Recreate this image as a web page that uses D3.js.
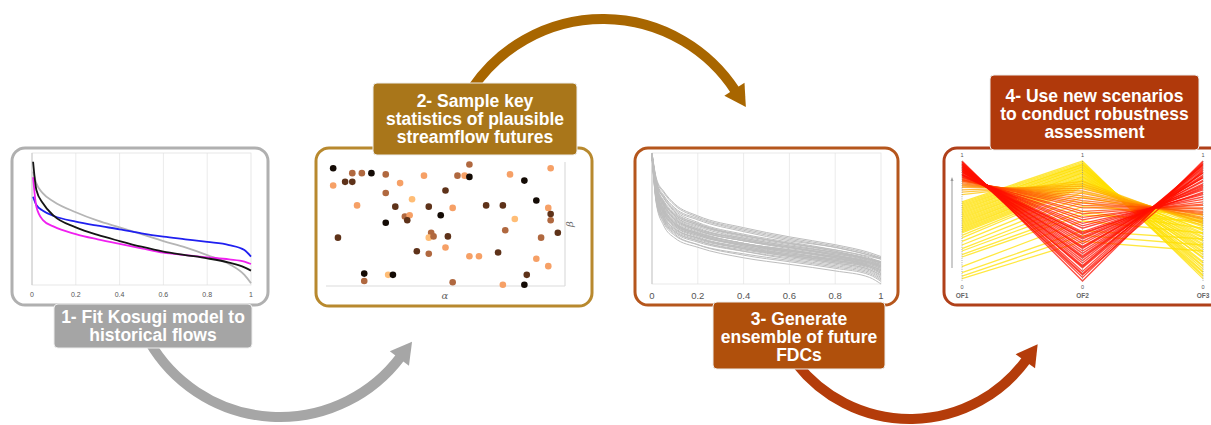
<!DOCTYPE html>
<html><head><meta charset="utf-8">
<script src="https://cdn.jsdelivr.net/npm/d3@7"></script>
<style>body{margin:0;background:#fff}svg{display:block}</style>
</head><body>
<svg id="c" width="1211" height="425"></svg>
<script>
// ---------------- DATA ----------------
// Panel 1: historical FDC fits (exceedance probability vs normalised flow)
const fdcX       = [0.005,0.02,0.05,0.1,0.2,0.3,0.4,0.5,0.6,0.7,0.8,0.9,0.97,1.0];
const histGrey   = [0.859,0.77,0.694,0.631,0.551,0.487,0.437,0.386,0.333,0.285,0.227,0.159,0.076,0.013];
const histBlue   = [0.669,0.606,0.563,0.523,0.48,0.449,0.422,0.391,0.366,0.346,0.326,0.303,0.265,0.215];
const histMagenta= [0.816,0.593,0.492,0.442,0.386,0.346,0.311,0.278,0.245,0.227,0.21,0.194,0.177,0.159];
const histBlack  = [0.934,0.72,0.619,0.523,0.437,0.379,0.333,0.29,0.253,0.227,0.202,0.169,0.134,0.109];
const fdcTicks   = [0,0.2,0.4,0.6,0.8,1];

// Panel 2: sampled statistics (alpha, beta) and shade class
const sampleAlpha = [0.03,0.11,0.15,0.19,0.25,0.03,0.08,0.11,0.31,0.41,0.25,0.36,0.50,0.13,0.29,0.43,0.53,0.48,0.33,0.35,0.34,0.25,0.05,0.44,0.43,0.45,0.51,0.38,0.43,0.50,0.16,0.16,0.26,0.28,0.53,0.60,0.55,0.58,0.60,0.77,0.94,0.83,0.88,0.67,0.74,0.93,0.94,0.94,0.79,0.75,0.97,0.90,0.72,0.60,0.64,0.88,0.93,0.84,0.74,0.83];
const sampleBeta  = [0.95,0.91,0.91,0.91,0.90,0.81,0.84,0.84,0.83,0.89,0.75,0.70,0.77,0.65,0.64,0.64,0.63,0.57,0.56,0.57,0.53,0.51,0.39,0.43,0.39,0.40,0.40,0.28,0.26,0.31,0.10,0.04,0.09,0.09,0.03,0.98,0.89,0.89,0.88,0.90,0.95,0.85,0.69,0.65,0.65,0.63,0.58,0.53,0.54,0.45,0.43,0.39,0.27,0.24,0.24,0.22,0.16,0.09,0.01,0.01];
const sampleShade = [0,2,2,0,2,3,1,1,3,3,2,4,1,3,1,1,3,0,2,3,1,0,1,2,4,2,1,1,2,3,0,2,4,0,2,2,2,3,0,3,3,0,0,1,1,3,1,2,4,2,1,2,1,3,3,3,3,1,3,0];

// Panel 3: ensemble of future FDCs
const ensembleX = [0,0.02,0.05,0.1,0.2,0.4,0.6,0.8,0.95,1];
const ensembleCurves = [
 [1.00,.80,.71,.61,.52,.43,.36,.30,.24,.21],
 [1.00,.79,.70,.60,.51,.42,.35,.29,.23,.20],
 [1.00,.78,.68,.58,.50,.41,.34,.28,.22,.19],
 [1.00,.77,.67,.57,.49,.40,.33,.28,.22,.20],
 [.99,.76,.66,.56,.47,.38,.32,.26,.20,.17],
 [.99,.77,.66,.55,.46,.37,.31,.25,.19,.16],
 [.99,.75,.64,.54,.46,.37,.31,.26,.21,.19],
 [.99,.74,.63,.53,.45,.36,.30,.24,.18,.15],
 [.99,.73,.62,.53,.45,.37,.31,.25,.19,.17],
 [.99,.72,.61,.51,.42,.34,.28,.22,.16,.13],
 [.99,.73,.61,.50,.42,.35,.29,.24,.19,.16],
 [.99,.71,.60,.50,.41,.33,.27,.22,.17,.15],
 [.98,.70,.58,.48,.40,.31,.26,.20,.14,.11],
 [.98,.71,.59,.49,.41,.33,.28,.23,.18,.16],
 [.98,.69,.57,.47,.39,.31,.25,.20,.15,.12],
 [.98,.70,.57,.46,.38,.30,.25,.21,.17,.14],
 [.98,.68,.55,.45,.38,.29,.23,.18,.13,.08],
 [.98,.68,.56,.46,.38,.30,.24,.19,.14,.10],
 [.98,.67,.55,.45,.37,.30,.25,.20,.16,.13],
 [.98,.66,.53,.43,.35,.27,.21,.16,.11,.06],
 [.98,.67,.54,.44,.36,.28,.23,.19,.15,.12],
 [.98,.66,.54,.44,.37,.29,.24,.18,.13,.09],
 [.98,.65,.52,.42,.35,.28,.22,.17,.12,.08],
 [.98,.64,.50,.40,.33,.25,.19,.14,.09,.04],
 [.98,.65,.51,.41,.34,.27,.22,.18,.14,.11],
 [.98,.63,.50,.40,.33,.26,.21,.16,.11,.07],
 [.97,.62,.48,.38,.30,.22,.17,.12,.07,.02],
 [.97,.63,.49,.39,.32,.25,.20,.15,.10,.05],
 [.97,.60,.45,.35,.28,.20,.15,.10,.05,.00],
 [.97,.61,.47,.37,.30,.23,.18,.13,.08,.03],
 [.99,.75,.63,.52,.43,.34,.28,.22,.17,.14],
 [.99,.72,.60,.49,.41,.33,.28,.23,.19,.17],
 [.98,.69,.56,.46,.39,.31,.26,.21,.16,.13],
 [.98,.66,.52,.42,.35,.27,.22,.17,.13,.10],
 [.99,.74,.62,.52,.44,.35,.29,.24,.19,.16],
 [.98,.70,.58,.47,.39,.31,.26,.21,.16,.14]
];

// Panel 4: robustness (parallel coordinates OF1, OF2, OF3)
const pcAxes = ["OF1","OF2","OF3"];
const scenarios = [
 // yellow band
 [0.66,1.00,0.02],[0.65,0.99,0.05],[0.64,0.98,0.08],[0.63,0.97,0.04],[0.62,0.97,0.10],
 [0.61,0.96,0.13],[0.60,0.95,0.07],[0.59,0.95,0.16],[0.58,0.94,0.12],[0.57,0.93,0.19],
 [0.56,0.93,0.22],[0.55,0.92,0.15],[0.54,0.91,0.25],[0.53,0.90,0.20],[0.52,0.90,0.28],
 [0.51,0.89,0.24],[0.50,0.88,0.31],[0.49,0.87,0.27],[0.48,0.87,0.34],[0.47,0.86,0.30],
 [0.46,0.85,0.37],[0.45,0.84,0.33],[0.44,0.84,0.40],[0.43,0.83,0.36],[0.42,0.82,0.42],
 [0.41,0.81,0.39],[0.40,0.80,0.45],[0.38,0.79,0.43],[0.36,0.78,0.48],
 // sparse yellow
 [0.33,0.74,0.50],[0.30,0.70,0.52],[0.27,0.66,0.47],[0.25,0.62,0.55],[0.22,0.58,0.44],
 [0.20,0.55,0.50],[0.12,0.50,0.40],[0.07,0.42,0.35],[0.04,0.38,0.30],[0.02,0.33,0.25],
 // orange
 [0.85,0.58,0.63],[0.845,0.61,0.61],[0.84,0.63,0.60],[0.835,0.65,0.58],[0.83,0.67,0.57],
 [0.82,0.69,0.56],[0.81,0.71,0.55],[0.80,0.73,0.53],[0.79,0.75,0.52],[0.78,0.77,0.51],
 [0.76,0.79,0.49],[0.74,0.81,0.48],[0.72,0.83,0.46],
 // red
 [1.00,0.00,1.00],[0.99,0.03,0.99],[0.99,0.06,0.97],[0.98,0.08,0.98],[0.975,0.11,0.95],
 [0.97,0.13,0.96],[0.965,0.15,0.93],[0.96,0.17,0.94],[0.955,0.19,0.91],[0.95,0.21,0.90],
 [0.945,0.23,0.88],[0.94,0.25,0.87],[0.935,0.27,0.86],[0.93,0.29,0.84],[0.925,0.31,0.83],
 [0.92,0.33,0.81],[0.915,0.35,0.80],[0.91,0.37,0.79],[0.905,0.39,0.77],[0.90,0.41,0.76],
 [0.89,0.44,0.73],[0.885,0.46,0.72],[0.88,0.48,0.70],[0.87,0.51,0.68],[0.865,0.53,0.66],
 [0.86,0.56,0.64],[0.97,0.05,0.92],[0.95,0.12,0.97],[0.93,0.20,0.90],[0.91,0.28,0.86],
 [0.89,0.36,0.78],[0.88,0.40,0.74]
];

// Step labels
const step1Text = ["1- Fit Kosugi model to","historical flows"];
const step2Text = ["2- Sample key","statistics of plausible","streamflow futures"];
const step3Text = ["3- Generate","ensemble of future","FDCs"];
const step4Text = ["4- Use new scenarios","to conduct robustness","assessment"];

// ---------------- DRAWING ----------------
const svg = d3.select("#c");
const FONT = "'Liberation Sans', Arial, Helvetica, sans-serif";

// curved arrows
function arrow(cx, cy, r, a0d, a1d, color) {
  const a0 = a0d*Math.PI/180, a1 = a1d*Math.PI/180;
  const sx = cx + r*Math.cos(a0), sy = cy + r*Math.sin(a0);
  const ex = cx + r*Math.cos(a1), ey = cy + r*Math.sin(a1);
  const sweep = a1 > a0 ? 1 : 0;
  svg.append("path")
    .attr("d", `M${sx},${sy} A${r},${r} 0 0 ${sweep} ${ex},${ey}`)
    .attr("fill","none").attr("stroke",color).attr("stroke-width",10);
  const dx = sweep ? -Math.sin(a1) : Math.sin(a1);
  const dy = sweep ?  Math.cos(a1) : -Math.cos(a1);
  const nx = -dy, ny = dx, L = 19, W = 12;
  const bx = ex - dx*2, by = ey - dy*2;
  svg.append("path")
    .attr("d", `M${ex+dx*L},${ey+dy*L} L${bx+nx*W},${by+ny*W} L${bx-nx*W},${by-ny*W} Z`)
    .attr("fill", color);
}
arrow(280, 266, 151, 150, 37, "#a6a6a6");
arrow(603, 177, 158, -146, -33, "#a86600");
arrow(910, 275, 144, 142, 36, "#b43c0a");

// panel frames
function panel(x, y, w, h, color) {
  svg.append("rect").attr("x",x).attr("y",y).attr("width",w).attr("height",h)
    .attr("rx",13).attr("fill","#fff").attr("stroke",color).attr("stroke-width",3);
}
panel(12, 148, 256, 157, "#b0b0b0");
panel(316, 148, 276, 158, "#b8892e");
panel(635, 148, 263, 157, "#b5561c");
panel(944, 148, 290, 157, "#b0401a");

// ---- Panel 1
{
  const x = d3.scaleLinear().domain([0,1]).range([32,251]);
  const y = d3.scaleLinear().domain([0,1]).range([285,153]);
  const g = svg.append("g");
  g.selectAll("line.grid").data(fdcTicks.slice(1,-1)).join("line")
    .attr("x1",d=>x(d)).attr("x2",d=>x(d)).attr("y1",y(1)).attr("y2",y(0))
    .attr("stroke","#e6e6e6").attr("stroke-width",0.8);
  g.append("rect").attr("x",x(0)).attr("y",y(1)).attr("width",x(1)-x(0)).attr("height",y(0)-y(1))
    .attr("fill","none").attr("stroke","#e2e2e2").attr("stroke-width",0.8);
  g.append("line").attr("x1",x(0)).attr("x2",x(0)).attr("y1",y(1)).attr("y2",y(0))
    .attr("stroke","#c8c8c8");
  g.selectAll("text.tick").data(fdcTicks).join("text")
    .attr("x",d=>x(d)).attr("y",297).attr("text-anchor","middle")
    .attr("font-family",FONT).attr("font-size",7).attr("fill","#555").text(d=>d);
  const line = d3.line().x((d,i)=>x(fdcX[i])).y(d=>y(d)).curve(d3.curveMonotoneX);
  [[histGrey,"#b5b5b5"],[histBlue,"#2020f0"],[histMagenta,"#f020f0"],[histBlack,"#151515"]]
    .forEach(([s,c]) => g.append("path").attr("d",line(s)).attr("fill","none")
      .attr("stroke",c).attr("stroke-width",1.8));
}

// ---- Panel 2
{
  const x = d3.scaleLinear().domain([0,1]).range([326,565]);
  const y = d3.scaleLinear().domain([0,1]).range([286,162]);
  const shadeColors = ["#140b05","#5e3219","#b0683f","#f6a066","#ffbd76"];
  const g = svg.append("g");
  g.append("line").attr("x1",x(0)).attr("x2",x(1)).attr("y1",y(0)).attr("y2",y(0)).attr("stroke","#dcdcdc").attr("stroke-width",1.2);
  g.append("line").attr("x1",x(1)).attr("x2",x(1)).attr("y1",y(0)).attr("y2",y(1)).attr("stroke","#dcdcdc").attr("stroke-width",1.2);
  g.selectAll("circle").data(sampleAlpha).join("circle")
    .attr("cx",d=>x(d)).attr("cy",(d,i)=>y(sampleBeta[i])).attr("r",3.3)
    .attr("fill",(d,i)=>shadeColors[sampleShade[i]]);
  g.append("text").attr("x",445).attr("y",299).attr("text-anchor","middle")
    .attr("font-family","'DejaVu Serif', serif").attr("font-style","italic").attr("font-size",10).attr("fill","#666").text("α");
  g.append("text").attr("transform","translate(573,224) rotate(-90)").attr("text-anchor","middle")
    .attr("font-family","'DejaVu Serif', serif").attr("font-style","italic").attr("font-size",10).attr("fill","#666").text("β");
}

// ---- Panel 3
{
  const x = d3.scaleLinear().domain([0,1]).range([652,881]);
  const y = d3.scaleLinear().domain([0,1]).range([284,153]);
  const g = svg.append("g");
  g.selectAll("line.grid").data(fdcTicks.slice(1,-1)).join("line")
    .attr("x1",d=>x(d)).attr("x2",d=>x(d)).attr("y1",y(1)).attr("y2",y(0))
    .attr("stroke","#e6e6e6").attr("stroke-width",0.8);
  g.append("rect").attr("x",x(0)).attr("y",y(1)).attr("width",x(1)-x(0)).attr("height",y(0)-y(1))
    .attr("fill","none").attr("stroke","#e4e4e4").attr("stroke-width",0.8);
  g.append("line").attr("x1",x(0)).attr("x2",x(0)).attr("y1",y(1)).attr("y2",y(0)).attr("stroke","#c8c8c8");
  g.selectAll("text.tick").data(fdcTicks).join("text")
    .attr("x",d=>x(d)).attr("y",299).attr("text-anchor","middle")
    .attr("font-family",FONT).attr("font-size",9.5).attr("fill","#555").text(d=>d);
  const line = d3.line().x((d,i)=>x(ensembleX[i])).y(d=>y(d)).curve(d3.curveMonotoneX);
  g.selectAll("path.ens").data(ensembleCurves).join("path")
    .attr("d",line).attr("fill","none").attr("stroke","#bdbdbd").attr("stroke-width",1);
}

// ---- Panel 4
{
  const x = d3.scalePoint().domain(pcAxes).range([962,1203]);
  const y = d3.scaleLinear().domain([0,1]).range([281,161]);
  const color = d3.scaleLinear().domain([0.68,0.79,0.88]).range(["#ffe000","#ff9200","#ff1000"]).clamp(true);
  const g = svg.append("g");
  const line = d3.line().x((d,i)=>x(pcAxes[i])).y(d=>y(d));
  const order = scenarios.slice().sort((a,b)=>a[0]-b[0]);
  g.selectAll("path.sc").data(order).join("path")
    .attr("d",line).attr("fill","none").attr("stroke",d=>color(d[0]))
    .attr("stroke-width",1.3).attr("stroke-opacity",0.75);
  pcAxes.forEach(a => {
    g.append("line").attr("x1",x(a)).attr("x2",x(a)).attr("y1",y(1)).attr("y2",y(0))
      .attr("stroke","#888").attr("stroke-width",0.7).attr("stroke-dasharray","1,1.2");
    g.append("text").attr("x",x(a)).attr("y",157).attr("text-anchor","middle")
      .attr("font-family",FONT).attr("font-size",5.5).attr("fill","#555").text("1");
    g.append("text").attr("x",x(a)).attr("y",289).attr("text-anchor","middle")
      .attr("font-family",FONT).attr("font-size",5.5).attr("fill","#555").text("0");
    g.append("text").attr("x",x(a)).attr("y",298).attr("text-anchor","middle")
      .attr("font-family",FONT).attr("font-size",6.5).attr("font-weight","bold").attr("fill","#666").text(a);
  });
  g.append("line").attr("x1",952).attr("x2",952).attr("y1",268).attr("y2",180).attr("stroke","#999").attr("stroke-width",1);
  g.append("path").attr("d","M952,177 L950.5,181 L953.5,181 Z").attr("fill","#999");
}

// ---- Step labels
function label(x, y, w, h, color, lines, baseline) {
  svg.append("rect").attr("x",x).attr("y",y).attr("width",w).attr("height",h)
    .attr("rx",4).attr("fill",color).attr("stroke","#ededed").attr("stroke-width",1);
  svg.append("text").attr("text-anchor","middle").attr("font-family",FONT)
    .attr("font-weight","bold").attr("font-size",17.5).attr("fill","#fff")
    .selectAll("tspan").data(lines).join("tspan")
    .attr("x",x+w/2).attr("y",(d,i)=>baseline+i*17.8).text(d=>d);
}
label(54, 304, 198, 44, "#a5a5a5", step1Text, 323);
label(373, 83, 204, 72, "#a9761a", step2Text, 107);
label(713, 302, 172, 67, "#b0500c", step3Text, 325);
label(990, 75, 209, 75, "#b0390b", step4Text, 102);
</script>
</body></html>
